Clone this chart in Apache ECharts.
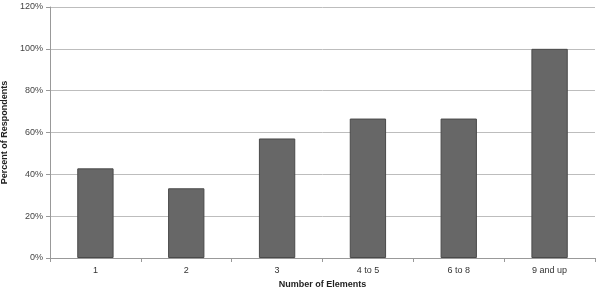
<!DOCTYPE html>
<html><head><meta charset="utf-8">
<script src="https://cdn.jsdelivr.net/npm/echarts@6/dist/echarts.min.js"></script>
<style>html,body{margin:0;padding:0;background:#fff}#c{width:600px;height:294px}</style>
</head><body><div id="c"></div>
<script>
const categories = ['1', '2', '3', '4 to 5', '6 to 8', '9 and up'];
const percentValues = [42.86, 33.33, 57.14, 66.67, 66.67, 100];
const yTicks = [0, 20, 40, 60, 80, 100, 120];

const chart = echarts.init(document.getElementById('c'));
chart.setOption({
  animation: false,
  grid: {left: 50, right: 5, top: 7, bottom: 36, containLabel: false, outerBoundsMode: 'none'},
  xAxis: {
    type: 'category', data: categories,
    name: 'Number of Elements', nameLocation: 'middle', nameGap: 21,
    nameTextStyle: {fontFamily: 'Liberation Sans', fontSize: 9, fontWeight: 'bold', color: '#222'},
    axisLine: {lineStyle: {color: '#999'}},
    axisTick: {show: true, length: 4, lineStyle: {color: '#999'}},
    axisLabel: {fontFamily: 'Liberation Sans', fontSize: 9, color: '#333', margin: 8}
  },
  yAxis: {
    type: 'value', min: 0, max: 120, interval: 20,
    name: 'Percent of Respondents', nameLocation: 'middle', nameGap: 33, nameRotate: 90,
    nameTextStyle: {fontFamily: 'Liberation Sans', fontSize: 9, fontWeight: 'bold', color: '#222'},
    axisLine: {show: true, lineStyle: {color: '#999'}},
    axisTick: {show: true, length: 4, lineStyle: {color: '#999'}},
    axisLabel: {fontFamily: 'Liberation Sans', fontSize: 9, color: '#444', margin: 7,
      formatter: v => yTicks.includes(v) ? v + '%' : ''},
    splitLine: {lineStyle: {color: '#bdbdbd'}}
  },
  series: [{
    type: 'bar', data: percentValues, barWidth: '40%',
    itemStyle: {color: '#676767', borderColor: '#4a4a4a', borderWidth: 1}
  }]
});
</script></body></html>
